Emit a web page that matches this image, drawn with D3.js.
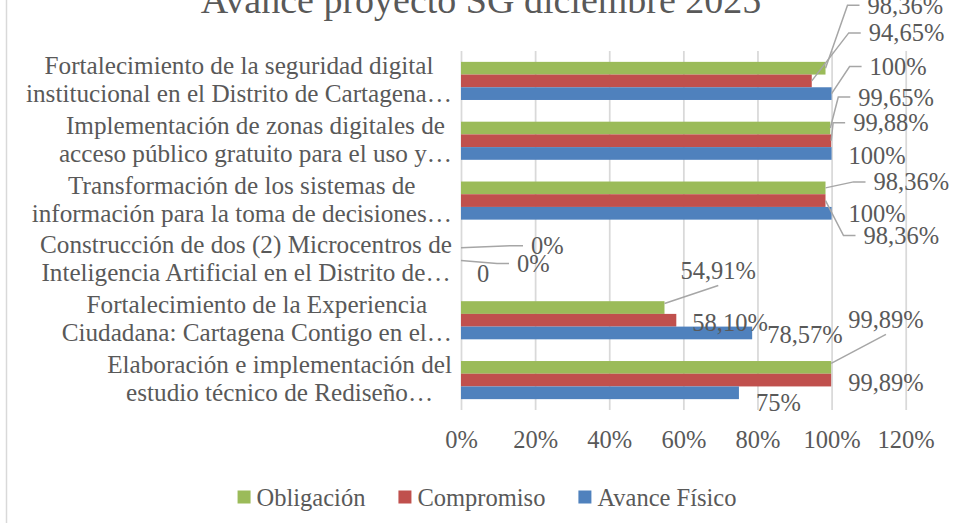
<!DOCTYPE html>
<html>
<head>
<meta charset="utf-8">
<script src="https://cdn.jsdelivr.net/npm/d3@7/dist/d3.min.js"></script>
<style>
  body { margin: 0; background: #fff; }
  svg { display: block; font-family: 'Liberation Serif', 'DejaVu Serif', serif; }
</style>
</head>
<body>
<div id="chart"></div>
<script>
// Datos
const titulo = 'Avance proyecto SG diciembre 2025';
const categorias = [
  ['Fortalecimiento de la seguridad digital', 'institucional en el Distrito de Cartagena…'],
  ['Implementación de zonas digitales de', 'acceso público gratuito para el uso y…'],
  ['Transformación de los sistemas de', 'información para la toma de decisiones…'],
  ['Construcción de dos (2) Microcentros de', 'Inteligencia Artificial en el Distrito de…'],
  ['Fortalecimiento de la Experiencia', 'Ciudadana: Cartagena Contigo en el…'],
  ['Elaboración e implementación del', 'estudio técnico de Rediseño…']
];
const series = ['Obligación', 'Compromiso', 'Avance Físico'];
const obligacion = [98.36, 99.65, 98.36, 0, 54.91, 99.89];
const compromiso = [94.65, 99.88, 98.36, 0, 58.10, 99.89];
const avanceFisico = [100, 100, 100, 0, 78.57, 75];
const xTicks = [0, 20, 40, 60, 80, 100, 120];
// etiqueta sin signo de porcentaje (serie, categoria)
const sinPorcentaje = [['Avance Físico', 3]];

const colores = { 'Obligación': '#9BBB59', 'Compromiso': '#C0504D', 'Avance Físico': '#4F81BD' };

// Posicion de las etiquetas movidas a mano: [dx, dy, linea guia] desde el final de la barra
// linea guia: 0 ninguna, 1 al lado izquierdo, 2 por debajo de la etiqueta
const posEtiquetas = {
  'Obligación': [[42, -63, 1], [28, -31, 1], [48, -6, 1], [70, -2, 1], [16, -37, 2], [17, -48, 2]],
  'Compromiso': [[57, -48, 1], [22, -18, 1], [38, 35, 1], [56, 3, 1], [16, 2, 0], [17, 2, 0]],
  'Avance Físico': [[38, -27, 1], [17, 2, 0], [17, 0, 0], [16, 0, 0], [15, 1, 0], [17, 10, 0]]
};

const valores = { 'Obligación': obligacion, 'Compromiso': compromiso, 'Avance Físico': avanceFisico };

const width = 962, height = 523;
const fontSize = 24.5;
const gris = '#595959';

let svg = d3.select('#chart').append('svg')
  .attr('width', width)
  .attr('height', height);

// marco del grafico
svg.append('rect')
  .attr('x', 6.5).attr('y', -5)
  .attr('width', width + 20).attr('height', height + 20)
  .attr('fill', 'none')
  .attr('stroke', '#d9d9d9')
  .attr('stroke-width', 1.5);

let x = d3.scaleLinear().domain([0, 120]).range([461, 905.7]);
let y = d3.scaleBand()
  .domain(d3.range(categorias.length))
  .range([51, 410])
  .paddingInner(0.363)
  .paddingOuter(0.1815);
let ySub = d3.scaleBand().domain(series).range([0, y.bandwidth()]);

// titulo
svg.append('text')
  .attr('x', 481)
  .attr('y', 13)
  .attr('text-anchor', 'middle')
  .attr('fill', gris)
  .attr('font-size', 38)
  .text(titulo);

// eje x y lineas de cuadricula
let xAxis = d3.axisBottom(x)
  .tickValues(xTicks)
  .tickSize(-(410 - 51))
  .tickPadding(21)
  .tickFormat(d => d + '%');
let gx = svg.append('g')
  .attr('transform', 'translate(0,410)')
  .call(xAxis);
gx.select('.domain').remove();
gx.selectAll('line').attr('stroke', '#d9d9d9').attr('stroke-width', 1.75);
gx.selectAll('text')
  .attr('fill', gris)
  .attr('font-size', fontSize)
  .attr('font-family', "'Liberation Serif', serif");

// etiquetas de categorias
let gc = svg.append('g');
categorias.forEach((lines, i) => {
  let c = y(i) + y.bandwidth() / 2;
  let g = gc.append('g');
  let t = lines.map((ln, j) => g.append('text')
    .attr('y', c + (j - 0.5) * 28 + 7)
    .attr('fill', gris)
    .attr('font-size', 25.2)
    .attr('text-anchor', 'middle')
    .text(ln));
  let w = d3.max(t, s => s.node().getComputedTextLength());
  t.forEach(s => s.attr('x', 452 - w / 2));
});

// barras
series.forEach(s => {
  svg.append('g')
    .selectAll('rect')
    .data(valores[s])
    .enter()
    .append('rect')
    .attr('x', x(0))
    .attr('y', (d, i) => y(i) + ySub(s))
    .attr('width', d => x(d) - x(0))
    .attr('height', ySub.bandwidth())
    .attr('fill', colores[s]);
});

// etiquetas de datos
function formato(v, s, i) {
  let sp = sinPorcentaje.some(e => e[0] == s && e[1] == i);
  let txt = Number.isInteger(v) ? String(v) : d3.format('.2f')(v).replace('.', ',');
  return sp ? txt : txt + '%';
}

let gl = svg.append('g');
series.forEach(s => {
  valores[s].forEach((v, i) => {
    let x0 = x(v);
    let y0 = y(i) + ySub(s) + ySub.bandwidth() / 2;
    let p = posEtiquetas[s][i];
    let lx = x0 + p[0];
    let ly = y0 + p[1];
    let t = gl.append('text')
      .attr('x', lx)
      .attr('y', ly)
      .attr('dy', '0.35em')
      .attr('fill', gris)
      .attr('font-size', fontSize)
      .text(formato(v, s, i));
    let pts = null;
    if (p[2] == 1) {
      pts = [[x0, y0], [lx - 20, ly], [lx - 8, ly]];
    } else if (p[2] == 2) {
      let tw = t.node().getComputedTextLength();
      pts = [[x0, y0 - 4], [lx + tw / 2, ly + 15]];
    }
    if (pts) {
      gl.insert('polyline', 'text')
        .attr('points', pts.map(q => q.join(',')).join(' '))
        .attr('fill', 'none')
        .attr('stroke', '#a6a6a6')
        .attr('stroke-width', 1.5);
    }
  });
});

// leyenda
let gLeg = svg.append('g');
let cx = 0;
series.forEach(s => {
  let g = gLeg.append('g').attr('transform', `translate(${cx},0)`);
  g.append('rect')
    .attr('x', 0).attr('y', -6.5)
    .attr('width', 13).attr('height', 13)
    .attr('fill', colores[s]);
  let t = g.append('text')
    .attr('x', 19)
    .attr('dy', '0.35em')
    .attr('fill', gris)
    .attr('font-size', fontSize)
    .text(s);
  cx += 19 + t.node().getComputedTextLength() + 33;
});
let legW = cx - 33;
gLeg.attr('transform', `translate(${487 - legW / 2},497)`);
</script>
</body>
</html>
